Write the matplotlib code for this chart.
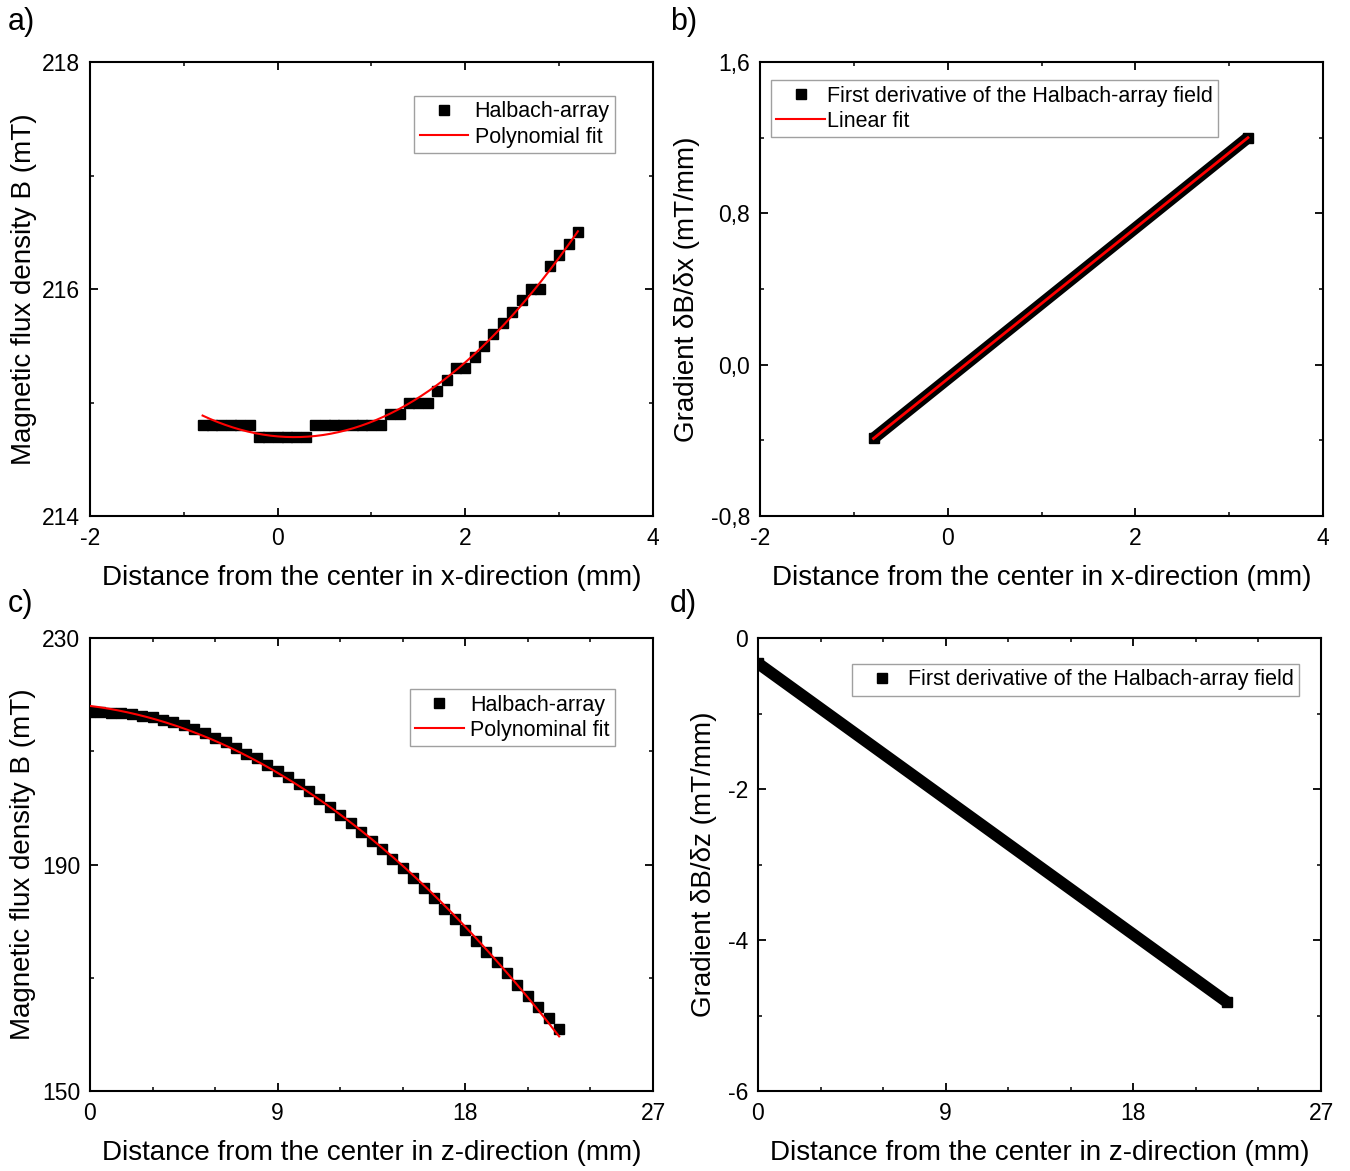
import numpy as np
import matplotlib
matplotlib.use('agg')
import matplotlib.pyplot as plt
from matplotlib.ticker import MultipleLocator, FixedLocator, FuncFormatter
from matplotlib.lines import Line2D

plt.rcParams.update({
    "font.family": "sans-serif",
    "font.sans-serif": ["Liberation Sans"],
    "font.size": 16.5,
    "axes.unicode_minus": False,
    "axes.linewidth": 1.5,
    "xtick.direction": "in",
    "ytick.direction": "in",
    "xtick.top": True,
    "ytick.right": True,
    "xtick.major.size": 6,
    "ytick.major.size": 6,
    "xtick.minor.size": 3,
    "ytick.minor.size": 3,
    "xtick.major.width": 1.3,
    "ytick.major.width": 1.3,
    "xtick.minor.width": 1.1,
    "ytick.minor.width": 1.1,
    "xtick.major.pad": 8,
    "ytick.major.pad": 7,
    "legend.fontsize": 15.5,
})

# field scan along x (mm, mT)
x_pos = [-0.8, -0.7, -0.6, -0.5, -0.4, -0.3, -0.2, -0.1, 0.0, 0.1,
         0.2, 0.3, 0.4, 0.5, 0.6, 0.7, 0.8, 0.9, 1.0, 1.1,
         1.2, 1.3, 1.4, 1.5, 1.6, 1.7, 1.8, 1.9, 2.0, 2.1,
         2.2, 2.3, 2.4, 2.5, 2.6, 2.7, 2.8, 2.9, 3.0, 3.1, 3.2]
B_x = [214.8, 214.8, 214.8, 214.8, 214.8, 214.8, 214.7, 214.7, 214.7, 214.7,
       214.7, 214.7, 214.8, 214.8, 214.8, 214.8, 214.8, 214.8, 214.8, 214.8,
       214.9, 214.9, 215.0, 215.0, 215.0, 215.1, 215.2, 215.3, 215.3, 215.4,
       215.5, 215.6, 215.7, 215.8, 215.9, 216.0, 216.0, 216.2, 216.3, 216.4, 216.5]

# field scan along z (mm, mT)
z_pos = [0.0, 0.5, 1.0, 1.5, 2.0, 2.5, 3.0, 3.5, 4.0, 4.5,
         5.0, 5.5, 6.0, 6.5, 7.0, 7.5, 8.0, 8.5, 9.0, 9.5,
         10.0, 10.5, 11.0, 11.5, 12.0, 12.5, 13.0, 13.5, 14.0, 14.5,
         15.0, 15.5, 16.0, 16.5, 17.0, 17.5, 18.0, 18.5, 19.0, 19.5,
         20.0, 20.5, 21.0, 21.5, 22.0, 22.5]
B_z = [217.0, 217.0, 216.8, 216.7, 216.5, 216.3, 216.0, 215.5, 215.1, 214.6,
       213.9, 213.2, 212.3, 211.6, 210.5, 209.6, 208.8, 207.6, 206.5, 205.4,
       204.2, 202.9, 201.5, 200.2, 198.7, 197.3, 195.8, 194.2, 192.7, 191.0,
       189.3, 187.6, 185.8, 184.0, 182.1, 180.3, 178.4, 176.5, 174.6, 172.7,
       170.8, 168.8, 166.8, 164.9, 162.9, 160.9]

# gradients (end points of the derivative traces, mT/mm)
grad_x_pos = [-0.79, 3.2]
grad_x = [-0.39, 1.20]
grad_z_pos = [0.0, 22.48]
grad_z = [-0.335, -4.82]

W, H = 1350, 1171
fig = plt.figure(figsize=(W / 100, H / 100), dpi=100)


def px_axes(left, top, right, bottom):
    return fig.add_axes([left / W, 1 - bottom / H, (right - left) / W, (bottom - top) / H])


def comma(v, pos):
    return f"{v:.1f}".replace('.', ',')


def legend(ax, handles, labels, loc, anchor, textpad):
    leg = ax.legend(handles, labels, loc=loc, bbox_to_anchor=anchor, borderaxespad=0,
                    fancybox=False, framealpha=1, edgecolor='#a0a0a0',
                    borderpad=0.25, handlelength=2.25, handletextpad=textpad,
                    labelspacing=0.2)
    leg.get_frame().set_linewidth(1.0)
    return leg


def grad_band(ax, xs, ys):
    # dense derivative points drawn as a thick trace with square ends
    ax.plot(xs, ys, color='black', lw=8.5, solid_capstyle='butt', zorder=2)
    ax.plot(xs, ys, 's', color='black', ms=7, zorder=2)


sq = Line2D([], [], marker='s', ls='none', color='black', ms=6.5)
red = Line2D([], [], color='red', lw=1.5)

# a) field along x
ax = px_axes(90, 62, 653, 516)
ax.plot(x_pos, B_x, 's', color='black', ms=7, zorder=2)
cx = np.polyfit(x_pos, B_x, 2)
xf = np.linspace(min(x_pos), max(x_pos), 200)
ax.plot(xf, np.polyval(cx, xf), color='red', lw=1.5, zorder=3)
ax.set_xlim(-2, 4)
ax.set_ylim(214, 218)
ax.xaxis.set_major_locator(MultipleLocator(2))
ax.xaxis.set_minor_locator(MultipleLocator(1))
ax.yaxis.set_major_locator(MultipleLocator(2))
ax.yaxis.set_minor_locator(MultipleLocator(1))
ax.set_xlabel("Distance from the center in x-direction (mm)", fontsize=20, labelpad=11)
ax.set_ylabel("Magnetic flux density B (mT)", fontsize=20, labelpad=4)
legend(ax, [sq, red], ["Halbach-array", "Polynomial fit"], 'upper right', (0.9325, 0.925), 0.3)

# b) gradient along x
ax = px_axes(760, 62, 1323, 516)
grad_band(ax, grad_x_pos, grad_x)
ax.plot(grad_x_pos, grad_x, color='red', lw=2, zorder=3)
ax.set_xlim(-2, 4)
ax.set_ylim(-0.8, 1.6)
ax.xaxis.set_major_locator(MultipleLocator(2))
ax.xaxis.set_minor_locator(MultipleLocator(1))
ax.yaxis.set_major_locator(MultipleLocator(0.8))
ax.yaxis.set_minor_locator(MultipleLocator(0.4))
ax.yaxis.set_major_formatter(FuncFormatter(comma))
ax.set_xlabel("Distance from the center in x-direction (mm)", fontsize=20, labelpad=11)
ax.set_ylabel("Gradient δB/δx (mT/mm)", fontsize=20, labelpad=8)
legend(ax, [sq, red], ["First derivative of the Halbach-array field", "Linear fit"],
       'upper left', (0.0195, 0.96), 0.1)

# c) field along z
ax = px_axes(90, 638, 653, 1091)
ax.plot(z_pos, B_z, 's', color='black', ms=7, zorder=2)
cz = np.polyfit(z_pos, B_z, 2)
zf = np.linspace(min(z_pos), max(z_pos), 200)
ax.plot(zf, np.polyval(cz, zf), color='red', lw=1.5, zorder=3)
ax.set_xlim(0, 27)
ax.set_ylim(150, 230)
ax.xaxis.set_major_locator(MultipleLocator(9))
ax.xaxis.set_minor_locator(MultipleLocator(3))
ax.yaxis.set_major_locator(FixedLocator([150, 190, 230]))
ax.yaxis.set_minor_locator(FixedLocator([170, 210]))
ax.set_xlabel("Distance from the center in z-direction (mm)", fontsize=20, labelpad=11)
ax.set_ylabel("Magnetic flux density B (mT)", fontsize=20, labelpad=4)
legend(ax, [sq, red], ["Halbach-array", "Polynominal fit"], 'upper right', (0.9325, 0.887), 0.3)

# d) gradient along z
ax = px_axes(758, 638, 1321, 1091)
grad_band(ax, grad_z_pos, grad_z)
ax.set_xlim(0, 27)
ax.set_ylim(-6, 0)
ax.xaxis.set_major_locator(MultipleLocator(9))
ax.xaxis.set_minor_locator(MultipleLocator(3))
ax.yaxis.set_major_locator(MultipleLocator(2))
ax.yaxis.set_minor_locator(MultipleLocator(1))
ax.set_xlabel("Distance from the center in z-direction (mm)", fontsize=20, labelpad=11)
ax.set_ylabel("Gradient δB/δz (mT/mm)", fontsize=20, labelpad=8)
legend(ax, [sq], ["First derivative of the Halbach-array field"], 'upper left', (0.167, 0.9426), 0.1)

for lbl, x, y in [("a)", 8, 22), ("b)", 670, 22), ("c)", 8, 604), ("d)", 670, 604)]:
    fig.text(x / W, 1 - y / H, lbl, fontsize=22, ha='left', va='center')

fig.savefig("out.png", dpi=100)
